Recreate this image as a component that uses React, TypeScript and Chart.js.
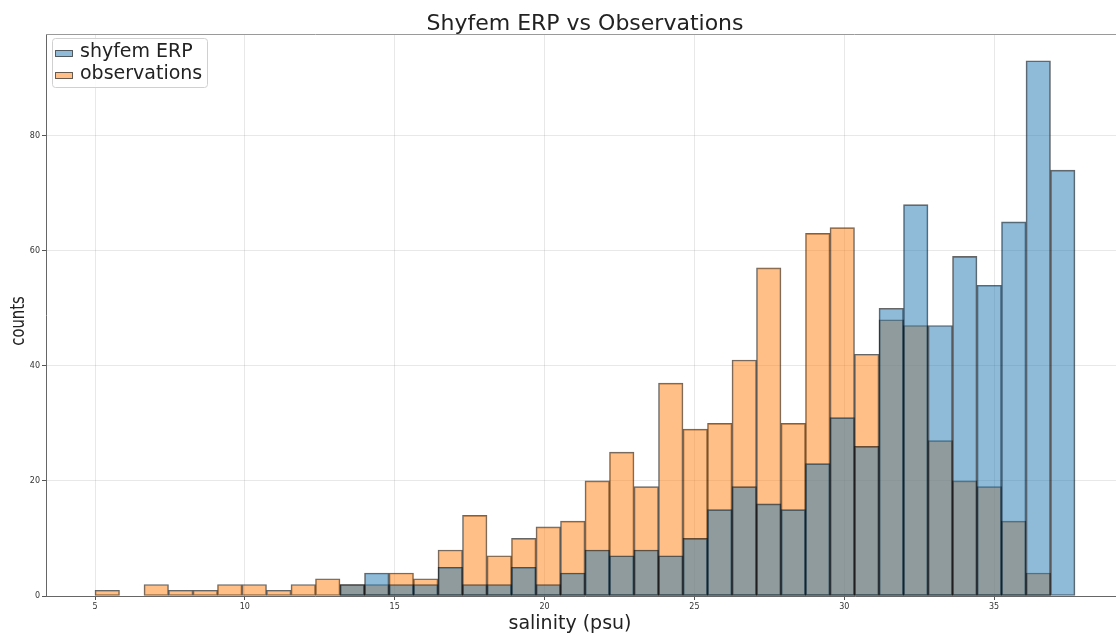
import { useEffect, useRef } from 'react';
import { Chart, registerables } from 'chart.js';

Chart.register(...registerables);

const titleText = 'Shyfem ERP vs Observations';
const xLabel = 'salinity (psu)';
const yLabel = 'counts';
const seriesNames = ['shyfem ERP', 'observations'];

const binEdges = [
  5.0, 5.8175, 6.635, 7.4525, 8.27, 9.0875, 9.905, 10.7225, 11.54, 12.3575,
  13.175, 13.9925, 14.81, 15.6275, 16.445, 17.2625, 18.08, 18.8975, 19.715, 20.5325,
  21.35, 22.1675, 22.985, 23.8025, 24.62, 25.4375, 26.255, 27.0725, 27.89, 28.7075,
  29.525, 30.3425, 31.16, 31.9775, 32.795, 33.6125, 34.43, 35.2475, 36.065, 36.8825,
  37.7,
];

const shyfemCounts = [
  0, 0, 0, 0, 0, 0, 0, 0, 0, 0,
  2, 4, 2, 2, 5, 2, 2, 5, 2, 4,
  8, 7, 8, 7, 10, 15, 19, 16, 15, 23,
  31, 26, 50, 68, 47, 59, 54, 65, 93, 74,
];

const obsCounts = [
  1, 0, 2, 1, 1, 2, 2, 1, 2, 3,
  2, 2, 4, 3, 8, 14, 7, 10, 12, 13,
  20, 25, 19, 37, 29, 30, 41, 57, 30, 63,
  64, 42, 48, 47, 27, 20, 19, 13, 4, 0,
];

const xTicks = [5, 10, 15, 20, 25, 30, 35];
const yTicks = [0, 20, 40, 60, 80];

const X_MIN = 3.365;
const X_MAX = 39.335;
const Y_MAX = 97.65;

const BLUE_FILL = 'rgba(31,119,180,0.5)';
const ORANGE_FILL = 'rgba(255,127,14,0.5)';
const EDGE = 'rgba(0,0,0,0.6)';
const FONT = '"DejaVu Sans", sans-serif';

function toPoints(counts: number[]) {
  return counts.map((c, i) => ({
    x: (binEdges[i] + binEdges[i + 1]) / 2,
    y: c === 0 ? null : c,
  }));
}

const decorPlugin = {
  id: 'decor',
  afterDraw(chart: any) {
    const ctx = chart.ctx as CanvasRenderingContext2D;
    const a = chart.chartArea;
    ctx.save();
    // top spine
    ctx.strokeStyle = '#9a9a9a';
    ctx.lineWidth = 1;
    ctx.beginPath();
    ctx.moveTo(a.left, a.top + 0.5);
    ctx.lineTo(a.right, a.top + 0.5);
    ctx.stroke();

    // title
    ctx.fillStyle = '#222';
    ctx.font = `22px ${FONT}`;
    ctx.textAlign = 'center';
    ctx.textBaseline = 'alphabetic';
    ctx.fillText(titleText, 585, 30);

    // x label
    ctx.font = `19px ${FONT}`;
    ctx.fillText(xLabel, 570, 629);

    // y label
    ctx.save();
    ctx.translate(24, 321);
    ctx.rotate(-Math.PI / 2);
    ctx.scale(0.78, 1);
    ctx.font = `19px ${FONT}`;
    ctx.textAlign = 'center';
    ctx.fillText(yLabel, 0, 0);
    ctx.restore();

    // legend
    const bx = 52.5, by = 38.5, bw = 155, bh = 49;
    ctx.fillStyle = 'rgba(255,255,255,0.85)';
    ctx.strokeStyle = '#d0d0d0';
    ctx.lineWidth = 1;
    ctx.beginPath();
    (ctx as any).roundRect ? (ctx as any).roundRect(bx, by, bw, bh, 3) : ctx.rect(bx, by, bw, bh);
    ctx.fill();
    ctx.stroke();

    const fills = [BLUE_FILL, ORANGE_FILL];
    const baselines = [57, 79];
    ctx.textAlign = 'left';
    ctx.font = `19px ${FONT}`;
    for (let i = 0; i < 2; i++) {
      const sy = baselines[i] - 7;
      ctx.fillStyle = fills[i];
      ctx.fillRect(55.5, sy + 0.5, 17, 6);
      ctx.strokeStyle = EDGE;
      ctx.strokeRect(55.5, sy + 0.5, 17, 6);
      ctx.fillStyle = '#222';
      ctx.fillText(seriesNames[i], 80, baselines[i]);
    }
    ctx.restore();
  },
};

export default function App() {
  const canvasRef = useRef<HTMLCanvasElement | null>(null);

  useEffect(() => {
    document.body.style.margin = '0';
    const canvas = canvasRef.current;
    if (!canvas) return;
    Chart.defaults.font.family = FONT;

    const chart = new Chart(canvas, {
      type: 'bar',
      data: {
        datasets: [
          {
            label: seriesNames[0],
            data: toPoints(shyfemCounts) as any,
            backgroundColor: BLUE_FILL,
            borderColor: EDGE,
            borderWidth: 1,
            borderSkipped: false,
            grouped: false,
            barPercentage: 1,
            categoryPercentage: 1,
          } as any,
          {
            label: seriesNames[1],
            data: toPoints(obsCounts) as any,
            backgroundColor: ORANGE_FILL,
            borderColor: EDGE,
            borderWidth: 1,
            borderSkipped: false,
            grouped: false,
            barPercentage: 1,
            categoryPercentage: 1,
          } as any,
        ],
      },
      options: {
        animation: false,
        responsive: false,
        devicePixelRatio: 1,
        layout: { padding: { left: 0, top: 34, right: 6, bottom: 0 } },
        plugins: {
          legend: { display: false },
          tooltip: { enabled: false },
          title: { display: false },
        },
        scales: {
          x: {
            type: 'linear',
            min: X_MIN,
            max: X_MAX,
            offset: false,
            grid: {
              offset: false,
              color: 'rgba(0,0,0,0.09)',
              tickColor: '#555',
              tickLength: 4,
            },
            border: { display: true, color: '#666', width: 1 },
            ticks: {
              font: { size: 8, family: FONT },
              color: '#333',
              padding: 2,
              maxRotation: 0,
            },
            afterBuildTicks: (scale: any) => {
              scale.ticks = xTicks.map((v) => ({ value: v }));
            },
            afterFit: (scale: any) => {
              scale.height = 41;
            },
          },
          y: {
            type: 'linear',
            min: 0,
            max: Y_MAX,
            grid: {
              color: 'rgba(0,0,0,0.09)',
              tickColor: '#555',
              tickLength: 4,
            },
            border: { display: true, color: '#666', width: 1 },
            ticks: {
              font: { size: 8, family: FONT },
              color: '#333',
              padding: 2,
            },
            afterBuildTicks: (scale: any) => {
              scale.ticks = yTicks.map((v) => ({ value: v }));
            },
            afterFit: (scale: any) => {
              scale.width = 46;
            },
          },
        },
      } as any,
      plugins: [decorPlugin],
    });

    return () => chart.destroy();
  }, []);

  return (
    <div
      style={{
        position: 'fixed',
        left: 0,
        top: 0,
        width: 1116,
        height: 637,
        overflow: 'hidden',
        background: '#fff',
      }}
    >
      <canvas ref={canvasRef} width={1130} height={637} style={{ display: 'block' }} />
    </div>
  );
}
